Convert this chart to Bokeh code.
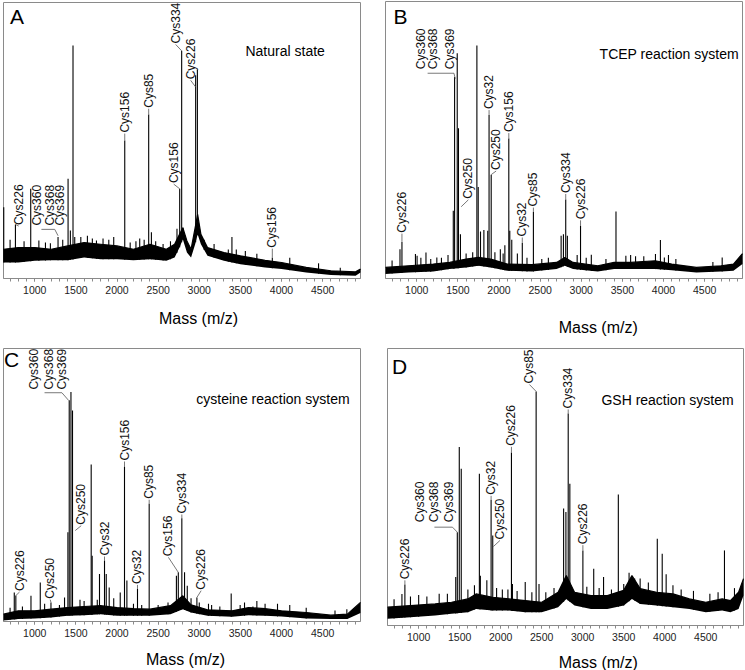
import numpy as np
from bokeh.plotting import figure
from bokeh.models import Range1d, SingleIntervalTicker
from bokeh.layouts import column, row
from bokeh.embed import file_html
from bokeh.resources import INLINE
from bokeh.core.properties import value

FONT = "Liberation Sans"

# ---------------- Panel A : Natural state ----------------
a_base_mass = [620, 800, 1000, 1200, 1400, 1600, 1800, 2000, 2200, 2400, 2600, 2700, 2760, 2800,
               2850, 2900, 2950, 2980, 3020, 3100, 3300, 3500, 3800, 4000, 4300, 4600, 4900, 4960]
a_base_lo = [5.8, 5.8, 6.4, 6.6, 6.6, 7.6, 7.0, 7.0, 6.6, 7.0, 6.4, 7.6, 11.2, 14.2,
             9.4, 7.6, 12.4, 16.0, 12.4, 8.2, 6.4, 5.2, 4.0, 3.4, 2.2, 1.3, 1.0, 2.2]
a_base_hi = [10.6, 11.2, 11.2, 10.6, 11.8, 13.0, 12.4, 11.8, 10.6, 12.4, 10.6, 12.4, 16.0, 18.4,
             13.6, 10.6, 18.4, 23.2, 16.0, 11.2, 9.4, 8.2, 6.6, 5.8, 4.0, 2.8, 2.4, 3.4]
a_peak_mass = [623, 765, 951, 1283, 1405, 1433, 1465, 1486, 1750, 2094, 2276, 2385, 2418,
               2729, 2762, 2786, 2802, 2956, 2977, 3353, 3397, 3888, 4714,
               700, 870, 1050, 1130, 1190, 1340, 1560, 1640, 1700, 1830, 1900, 1960, 2160,
               2230, 2330, 2470, 2560, 2650, 3060, 3180, 3450, 3560, 3700, 4100, 4450]
a_peak_int = [25.8, 19.6, 32.5, 15.0, 36.1, 17.4, 84.4, 15.0, 13.8, 50.0, 14.5, 59.4, 16.8,
              18.0, 32.5, 82.5, 18.4, 73.6, 75.6, 10.5, 15.0, 7.5, 3.9,
              14.0, 13.5, 13.8, 13.0, 12.8, 14.0, 15.0, 15.5, 14.5, 14.5, 14.0, 15.0, 13.0,
              13.5, 14.0, 13.5, 12.5, 13.5, 14.0, 12.5, 10.5, 10.0, 9.0, 7.5, 5.5]
a_lab_text = ["Cys226", "Cys156", "Cys85", "Cys156", "Cys334", "Cys226", "Cys156"]
a_lab_x = [805, 2094, 2385, 2689, 2713, 2895, 3888]
a_lab_y = [19.0, 52.5, 61.5, 34.2, 84.8, 71.8, 10.8]
a_lab_px = [765, 2094, 2385, 2762, 2786, 2956, 3888]
a_lab_py = [19.6, 50.0, 59.4, 32.5, 82.5, 69.4, 7.5]
a_grp_text = ["Cys360", "Cys368", "Cys369"]
a_grp_x = [1030, 1182, 1310]
a_grp_y = [18.8, 18.8, 18.8]
a_brk_x = [1081, 1243, 1283]
a_brk_y = [17.8, 17.8, 15.5]

# ---------------- Panel B : TCEP ----------------
b_base_mass = [620, 900, 1200, 1400, 1600, 1750, 1900, 2100, 2400, 2700, 2800, 2900, 3200,
               3400, 3600, 3900, 4100, 4400, 4700, 4850, 4960]
b_base_lo = [1.6, 2.2, 2.5, 3.4, 4.0, 4.6, 4.0, 2.8, 2.5, 3.4, 4.6, 3.4, 2.5,
             3.4, 3.4, 3.4, 3.0, 2.2, 2.5, 2.8, 5.2]
b_base_hi = [4.0, 4.6, 5.2, 5.8, 7.0, 7.6, 7.0, 5.2, 5.0, 5.8, 7.6, 5.8, 4.6,
             5.8, 5.8, 6.4, 5.2, 4.0, 4.6, 5.2, 9.0]
b_peak_mass = [796, 820, 984, 1004, 1112, 1244, 1444, 1460, 1492, 1507, 1531, 1731, 1747, 1775,
               1816, 1863, 1879, 1905, 2016, 2071, 2119, 2131, 2155, 2223, 2283, 2418, 2755,
               2783, 2811, 2831, 2991, 3122, 3422, 3542, 3902, 3962, 4010, 4713,
               700, 1050, 1170, 1300, 1380, 1600, 1680, 1950, 2050, 2340, 2520, 2600, 2950,
               3060, 3300, 3600, 3660, 3760, 4060, 4150, 4600]
b_peak_int = [10.6, 13.2, 8.8, 8.2, 9.4, 7.6, 24.5, 72.7, 81.3, 54.2, 16.0, 84.1, 33.0, 17.0,
              17.5, 17.2, 59.0, 37.5, 10.6, 12.0, 50.5, 17.2, 14.0, 9.0, 12.8, 24.0, 15.4,
              16.0, 28.5, 15.4, 19.0, 8.6, 24.2, 8.2, 8.8, 13.9, 7.6, 7.6,
              6.5, 7.5, 7.0, 7.5, 8.5, 9.0, 9.5, 9.5, 9.0, 7.5, 7.0, 7.5, 8.5,
              7.5, 7.0, 8.5, 8.0, 8.0, 8.5, 7.0, 6.0]
b_lab_text = ["Cys226", "Cys250", "Cys32", "Cys250", "Cys156", "Cys32", "Cys85", "Cys334", "Cys226"]
b_lab_x = [820, 1627, 1879, 1965, 2119, 2283, 2418, 2811, 2991]
b_lab_y = [16.2, 28.4, 60.8, 38.8, 52.5, 14.8, 25.6, 30.5, 21.0]
b_lab_px = [820, 1540, 1879, 1905, 2119, 2283, 2418, 2811, 2991]
b_lab_py = [13.2, 25.9, 59.0, 37.5, 50.5, 12.8, 24.0, 28.5, 19.0]
b_grp_text = ["Cys360", "Cys368", "Cys369"]
b_grp_x = [1052, 1200, 1399]
b_grp_y = [75.2, 75.2, 75.2]
b_brk_x = [1132, 1452, 1468]
b_brk_y = [74.1, 74.1, 72.1]

# ---------------- Panel C : cysteine ----------------
c_base_mass = [620, 800, 1000, 1200, 1400, 1600, 1800, 2000, 2200, 2400, 2650, 2800, 2900,
               3100, 3400, 3600, 3800, 4000, 4300, 4600, 4800, 4960]
c_base_lo = [0.4, 0.9, 1.1, 1.5, 2.1, 2.3, 2.7, 2.1, 2.1, 2.1, 2.7, 4.5, 3.3,
             2.1, 1.7, 2.3, 2.1, 1.8, 1.1, 0.9, 0.9, 3.1]
c_base_hi = [2.7, 3.9, 3.9, 4.5, 5.1, 5.5, 5.8, 5.1, 4.7, 4.5, 5.8, 9.4, 6.1,
             4.3, 3.9, 5.1, 4.7, 3.9, 3.3, 2.3, 2.7, 7.0]
c_peak_mass = [751, 770, 954, 1067, 1197, 1362, 1403, 1419, 1440, 1459, 1686, 1698, 1787, 1848,
               1869, 1905, 2039, 2091, 2120, 2249, 2391, 2722, 2745, 2788, 2821, 2854, 2971,
               3112, 3388, 3497, 3652, 3951, 4794,
               700, 850, 1120, 1300, 1550, 1600, 1760, 1960, 2200, 2300, 2500, 2620, 2900,
               3000, 3150, 3250, 3550, 3700, 3800, 4100, 4300, 4650]
c_peak_int = [10.6, 9.5, 9.4, 14.3, 7.0, 8.8, 32.7, 81.0, 84.1, 77.3, 57.5, 24.1, 17.4, 22.3,
              17.4, 12.5, 10.6, 56.8, 15.0, 11.9, 43.1, 16.8, 18.0, 37.8, 18.0, 13.1, 8.8,
              6.5, 10.3, 6.0, 5.5, 6.5, 4.5,
              5.0, 5.5, 6.5, 6.0, 8.0, 7.5, 8.0, 8.5, 6.5, 6.0, 6.0, 7.0, 8.5,
              7.0, 6.0, 5.5, 7.0, 7.5, 6.5, 6.0, 5.0, 4.0]
c_lab_text = ["Cys226", "Cys250", "Cys250", "Cys32", "Cys156", "Cys32", "Cys85", "Cys156", "Cys334", "Cys226"]
c_lab_x = [815, 1188, 1565, 1848, 2091, 2249, 2391, 2625, 2788, 3023]
c_lab_y = [10.8, 8.0, 35.1, 23.8, 58.6, 13.4, 44.6, 23.5, 39.2, 11.3]
c_lab_px = [770, 1197, 1492, 1848, 2091, 2249, 2391, 2745, 2788, 2971]
c_lab_py = [9.5, 7.0, 33.3, 22.3, 56.8, 11.9, 43.1, 18.0, 37.8, 8.8]
c_grp_text = ["Cys360", "Cys368", "Cys369"]
c_grp_x = [985, 1168, 1330]
c_grp_y = [84.6, 84.6, 84.6]
c_brk_x = [1119, 1330, 1411]
c_brk_y = [83.8, 83.8, 81.0]

# ---------------- Panel D : GSH ----------------
d_base_mass = [620, 900, 1200, 1400, 1600, 1700, 1900, 2100, 2300, 2500, 2700, 2800, 2900,
               3100, 3300, 3500, 3600, 3700, 3900, 4100, 4300, 4500, 4700, 4800, 4900, 4960]
d_base_lo = [2.4, 3.0, 3.6, 4.2, 4.8, 6.0, 5.4, 5.4, 4.8, 4.8, 6.6, 9.6, 7.2,
             6.0, 6.0, 7.2, 9.6, 7.8, 7.2, 6.6, 6.0, 4.8, 5.4, 4.8, 6.0, 10.8]
d_base_hi = [6.6, 7.2, 7.8, 8.4, 9.6, 11.4, 10.2, 9.6, 9.0, 8.4, 12.0, 18.0, 12.0,
             10.8, 10.8, 12.7, 18.0, 13.3, 12.0, 11.4, 9.6, 8.4, 9.6, 9.0, 12.0, 16.9]
d_peak_mass = [796, 832, 1452, 1471, 1495, 1519, 1740, 1752, 1831, 1883, 1903, 2088, 2131,
               2143, 2299, 2432, 2467, 2767, 2795, 2823, 2843, 3002, 3134, 3254, 3434, 3565,
               3633, 3909, 3969, 4017, 4728,
               700, 900, 1000, 1100, 1250, 1350, 1600, 1680, 1950, 2020, 2200, 2380, 2550,
               2650, 3050, 3200, 3350, 3500, 3700, 3800, 4100, 4200, 4350, 4550, 4650, 4850]
d_peak_int = [11.4, 14.8, 17.5, 33.7, 64.4, 56.6, 54.8, 18.0, 16.3, 45.4, 32.5, 13.0, 62.5,
              15.0, 15.7, 84.5, 15.0, 42.2, 41.0, 76.5, 51.2, 27.1, 20.5, 17.5, 47.3, 19.0,
              17.0, 31.3, 25.9, 18.5, 27.1,
              9.5, 10.5, 11.0, 10.5, 11.5, 11.5, 13.0, 14.5, 13.5, 13.0, 12.5, 12.0, 12.0,
              13.5, 14.0, 13.5, 13.0, 15.0, 17.0, 15.5, 14.5, 13.0, 12.5, 11.5, 12.0, 13.5]
d_lab_text = ["Cys226", "Cys32", "Cys250", "Cys226", "Cys85", "Cys334", "Cys226"]
d_lab_x = [832, 1883, 1991, 2131, 2350, 2823, 3002]
d_lab_y = [16.3, 46.8, 30.7, 64.5, 87.0, 78.0, 29.0]
d_lab_px = [832, 1883, 1911, 2131, 2432, 2823, 3002]
d_lab_py = [14.8, 45.4, 28.5, 62.5, 84.5, 76.5, 27.1]
d_grp_text = ["Cys360", "Cys368", "Cys369"]
d_grp_x = [1012, 1192, 1372]
d_grp_y = [36.9, 36.9, 36.9]
d_brk_x = [1192, 1412, 1471]
d_brk_y = [35.5, 35.5, 33.7]

panel_letters = ["A", "B", "C", "D"]
panel_titles = ["Natural state", "TCEP reaction system", "cysteine reaction system", "GSH reaction system"]
x_label = "Mass (m/z)"
x_start, x_end = 620, 4960
y_top = 100


def make_panel(data, letter, letter_pos, title, title_pos, xlab_pos, canvas, box):
    (bm, blo, bhi, pm, pi, lt, lx, ly, lpx, lpy, gt, gx, gy, kx, ky) = data
    cw, ch = canvas
    bl, bt, bw, bh = box            # plot box inside the canvas, in pixels
    kx_ = bw / (x_end - x_start)    # px per mass unit
    ky_ = bh / y_top                # px per intensity unit
    xr = Range1d(x_start - bl / kx_, x_end + (cw - bl - bw) / kx_)
    yr = Range1d(-(ch - bt - bh) / ky_, y_top + bt / ky_)
    p = figure(width=cw, height=ch, x_range=xr, y_range=yr,
               output_backend="svg", toolbar_location=None, min_border=0,
               min_border_left=0, min_border_right=0, min_border_top=0, min_border_bottom=0)
    p.grid.visible = False
    p.yaxis.visible = False
    p.outline_line_color = None
    p.background_fill_color = "white"
    p.border_fill_color = "white"
    ax = p.xaxis[0]
    ax.fixed_location = 0
    ax.bounds = (x_start, x_end)
    ax.ticker = SingleIntervalTicker(interval=500, num_minor_ticks=5)
    ax.axis_line_color = "#8a8a8a"
    ax.major_tick_line_color = "#8a8a8a"
    ax.minor_tick_line_color = "#8a8a8a"
    ax.major_tick_in = 0
    ax.major_tick_out = 3
    ax.minor_tick_in = 0
    ax.minor_tick_out = 3
    ax.major_label_standoff = 4
    ax.major_label_text_font = FONT
    ax.major_label_text_font_size = "10.5px"
    ax.major_label_text_color = "#222222"

    # plot box
    p.quad(left=[x_start], right=[x_end], bottom=[0], top=[y_top], fill_color=None,
           line_color="#8a8a8a", line_width=1)
    # noise band
    p.varea(x=bm, y1=blo, y2=bhi, fill_color="black", fill_alpha=1.0)
    p.line(x=bm, y=bhi, line_color="black", line_width=1.2)
    # peaks
    y0 = np.interp(pm, bm, blo)
    p.segment(x0=pm, y0=y0, x1=pm, y1=pi, line_color="black", line_width=1.1)
    # leaders
    p.segment(x0=lpx, y0=lpy, x1=lx, y1=ly, line_color="#555555", line_width=0.8)
    p.line(x=kx, y=ky, line_color="#555555", line_width=0.8)
    # labels
    p.text(x=lx + gx, y=ly + gy, text=lt + gt, angle=np.pi / 2, text_align="left",
           text_baseline="middle", text_font=value(FONT), text_font_size="12px",
           text_color="#111111", y_offset=-1)
    # letter, condition title, axis title
    p.text(x=[letter_pos[0]], y=[letter_pos[1]], text=[letter], text_align="center",
           text_baseline="middle", text_font=value(FONT), text_font_size="21px", text_color="black")
    p.text(x=[title_pos[0]], y=[title_pos[1]], text=[title], text_align="center",
           text_baseline="middle", text_font=value(FONT), text_font_size="14px", text_color="black")
    p.text(x=[xlab_pos[0]], y=[xlab_pos[1]], text=[x_label], text_align="center",
           text_baseline="middle", text_font=value(FONT), text_font_size="16px", text_color="black")
    return p


pA = make_panel((a_base_mass, a_base_lo, a_base_hi, a_peak_mass, a_peak_int, a_lab_text, a_lab_x, a_lab_y,
                 a_lab_px, a_lab_py, a_grp_text, a_grp_x, a_grp_y, a_brk_x, a_brk_y),
                panel_letters[0], (784, 95.1), panel_titles[0], (4044, 82.3), (2990, -14.5),
                (372, 336), (3, 2, 357, 276))
pB = make_panel((b_base_mass, b_base_lo, b_base_hi, b_peak_mass, b_peak_int, b_lab_text, b_lab_x, b_lab_y,
                 b_lab_px, b_lab_py, b_grp_text, b_grp_x, b_grp_y, b_brk_x, b_brk_y),
                panel_letters[1], (802, 94.6), panel_titles[1], (4069, 81.1), (3206, -17.7),
                (372, 336), (13, 1, 357, 277))
pC = make_panel((c_base_mass, c_base_lo, c_base_hi, c_peak_mass, c_peak_int, c_lab_text, c_lab_x, c_lab_y,
                 c_lab_px, c_lab_py, c_grp_text, c_grp_x, c_grp_y, c_brk_x, c_brk_y),
                panel_letters[2], (717, 95.9), panel_titles[2], (3896, 81.6), (2832, -14.0),
                (372, 334), (3, 12, 357, 273))
pD = make_panel((d_base_mass, d_base_lo, d_base_hi, d_peak_mass, d_peak_int, d_lab_text, d_lab_x, d_lab_y,
                 d_lab_px, d_lab_py, d_grp_text, d_grp_x, d_grp_y, d_brk_x, d_brk_y),
                panel_letters[3], (766, 93.4), panel_titles[3], (4034, 81.3), (3190, -13.2),
                (372, 334), (15, 12, 356, 277))

layout = column(row(pA, pB), row(pC, pD))
open("out.html", "w").write(file_html(layout, INLINE))
